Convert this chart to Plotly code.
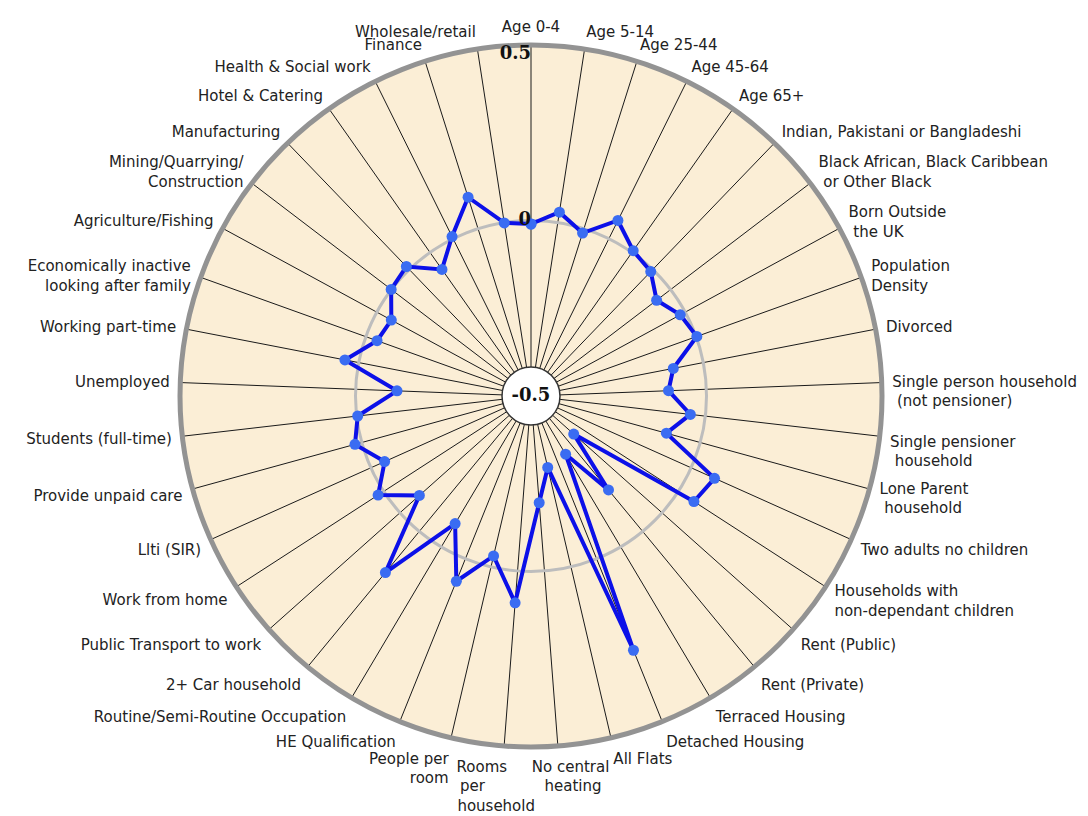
import plotly.graph_objects as go

categories = [
    "Age 0-4", "Age 5-14", "Age 25-44", "Age 45-64", "Age 65+",
    "Indian, Pakistani or Bangladeshi",
    "Black African, Black Caribbean or Other Black",
    "Born Outside the UK", "Population Density", "Divorced",
    "Single person household (not pensioner)",
    "Single pensioner household", "Lone Parent household",
    "Two adults no children", "Households with non-dependant children",
    "Rent (Public)", "Rent (Private)", "Terraced Housing",
    "Detached Housing", "All Flats", "No central heating",
    "Rooms per household", "People per room", "HE Qualification",
    "Routine/Semi-Routine Occupation", "2+ Car household",
    "Public Transport to work", "Work from home", "Llti (SIR)",
    "Provide unpaid care", "Students (full-time)", "Unemployed",
    "Working part-time", "Economically inactive looking after family",
    "Agriculture/Fishing", "Mining/Quarrying/Construction",
    "Manufacturing", "Hotel & Catering", "Health & Social work",
    "Finance", "Wholesale/retail",
]

NB = "\u00a0"
tick_labels = [
    "Age 0-4", "Age 5-14", "Age 25-44", "Age 45-64", "Age 65+",
    "Indian, Pakistani or Bangladeshi",
    NB + "<br>Black African, Black Caribbean<br> or Other Black",
    NB + "<br>Born Outside<br> the UK",
    NB + "<br>Population<br>Density", "Divorced",
    NB + "<br>Single person household<br> (not pensioner)",
    NB + "<br>Single pensioner<br> household", "Lone Parent<br> household",
    "Two adults no children",
    "Households with<br>non-dependant children<br>" + NB,
    "Rent (Public)", "Rent (Private)", "Terraced Housing",
    "Detached Housing", "All Flats",
    NB * 5 + "No central<br>" + NB * 6 + "heating",
    "Rooms" + NB * 9 + "<br>per" + NB * 13 + "<br>household" + NB * 3,
    "People per<br> room", "HE Qualification",
    "Routine/Semi-Routine Occupation", "2+ Car household",
    "Public Transport to work", "Work from home", "Llti (SIR)",
    "Provide unpaid care", "Students (full-time)", "Unemployed",
    "Working part-time",
    NB + "<br>Economically inactive<br>looking after family",
    "Agriculture/Fishing", NB + "<br>Mining/Quarrying/<br>Construction",
    "Manufacturing", "Hotel & Catering", "Health & Social work",
    "Finance", "Wholesale/retail",
]

values = [
    -0.010, 0.030, -0.013, 0.058, 0.006,
    -0.008, -0.050, -0.016, 0.002, -0.087,
    -0.108, -0.043, -0.100, 0.073, 0.053,
    -0.337, -0.153, -0.307, 0.281, -0.291,
    -0.195, 0.091, -0.032, 0.069, -0.077,
    0.152, -0.074, 0.019, -0.043, 0.020,
    -0.003, -0.118, 0.040, -0.034, -0.047,
    0.001, 0.012, -0.059, 0.007, 0.094,
    -0.001,
]

radial_ticks = [-0.5, 0, 0.5]
radial_range = [-0.5, 0.5]

fig = go.Figure()

# data line (closed)
fig.add_trace(go.Scatterpolar(
    r=values + values[:1],
    theta=categories + categories[:1],
    mode="lines+markers",
    line=dict(color="#0c10e8", width=4),
    marker=dict(color="#3a6cf2", size=11),
    cliponaxis=False,
    hoverinfo="skip",
    showlegend=False,
))

# center white disc with -0.5 label
fig.add_trace(go.Scatterpolar(
    r=[radial_ticks[0]],
    theta=[categories[0]],
    mode="markers+text",
    marker=dict(color="white", size=58, line=dict(color="#333333", width=1.5)),
    text=["<b>%g</b>" % radial_ticks[0]],
    textposition="middle center",
    textfont=dict(family="DejaVu Serif", size=18, color="#111111"),
    cliponaxis=False,
    hoverinfo="skip",
    showlegend=False,
))

# 0 and 0.5 labels
fig.add_trace(go.Scatterpolar(
    r=[radial_ticks[1]],
    theta=[categories[0]],
    mode="text",
    text=["<b>%g</b>" % radial_ticks[1]],
    textposition="middle left",
    textfont=dict(family="DejaVu Serif", size=18, color="#111111"),
    cliponaxis=False,
    hoverinfo="skip",
    showlegend=False,
))
fig.add_trace(go.Scatterpolar(
    r=[radial_ticks[2]],
    theta=[categories[0]],
    mode="text",
    text=["<b>%g</b>" % radial_ticks[2]],
    textposition="bottom left",
    textfont=dict(family="DejaVu Serif", size=18, color="#111111"),
    cliponaxis=False,
    hoverinfo="skip",
    showlegend=False,
))

R = 351
cx, cy = 523, 388
W, H = 1088, 816

fig.update_layout(
    width=W, height=H,
    margin=dict(l=0, r=0, t=0, b=0),
    paper_bgcolor="white",
    showlegend=False,
    polar=dict(
        domain=dict(x=[(cx - R) / W, (cx + R) / W],
                    y=[(H - cy - R) / H, (H - cy + R) / H]),
        bgcolor="#fbeed6",
        gridshape="circular",
        radialaxis=dict(
            range=radial_range,
            tickmode="array",
            tickvals=[radial_ticks[1]],
            showticklabels=False,
            ticks="",
            showline=False,
            showgrid=True,
            gridcolor="#bdbdbd",
            gridwidth=3,
            layer="below traces",
        ),
        angularaxis=dict(
            type="category",
            categoryorder="array",
            categoryarray=categories,
            tickmode="array",
            tickvals=categories,
            ticktext=tick_labels,
            rotation=90,
            direction="clockwise",
            ticks="outside",
            ticklen=5,
            tickcolor="rgba(0,0,0,0)",
            showline=True,
            linecolor="#939393",
            linewidth=5,
            showgrid=True,
            gridcolor="#1a1a1a",
            gridwidth=0.8,
            layer="below traces",
            tickfont=dict(family="DejaVu Sans", size=15, color="#222222"),
        ),
    ),
)

fig.write_html("out.html")
